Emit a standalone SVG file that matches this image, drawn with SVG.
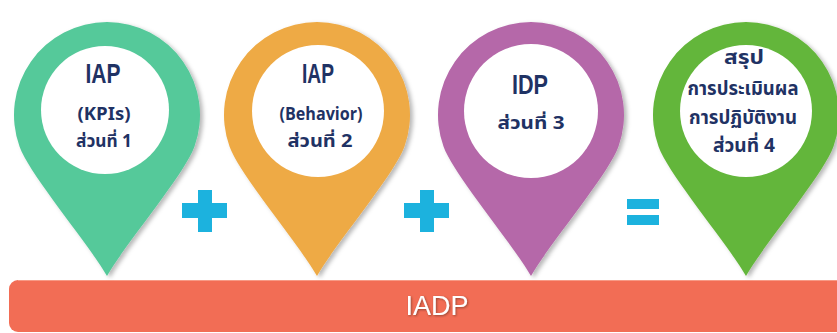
<svg xmlns="http://www.w3.org/2000/svg" width="837" height="333" viewBox="0 0 837 333">
  <defs>
    <!-- map-pin outline, bulb centred on the origin, tip at (0,161) -->
    <path id="pin" d="M0,161 C19,128 77.1,60 87.4,31.8 A93,93 0 1 0 -87.4,31.8 C-77.1,60 -19,128 0,161 Z"/>
    <filter id="pinShadow" x="-20%" y="-20%" width="140%" height="140%">
      <feDropShadow dx="3" dy="2" stdDeviation="2" flood-color="#000" flood-opacity="0.28"/>
    </filter>
    <filter id="textShadow" x="-10%" y="-20%" width="120%" height="140%">
      <feDropShadow dx="1" dy="1" stdDeviation="0.8" flood-color="#5a2a20" flood-opacity="0.6"/>
    </filter>
  </defs>
  <style>
    .face { fill: #ffffff; }
    .title { font-family: "Liberation Sans", Arial, sans-serif; font-weight: bold; font-size: 28px; fill: #1f3264; text-anchor: middle; }
    .sub { font-family: "Noto Sans Thai", "Noto Sans", "Liberation Sans", sans-serif; font-weight: bold; font-size: 17px; fill: #1f3264; text-anchor: middle; }
    .sum { font-family: "Noto Sans Thai", "Noto Sans", "Liberation Sans", sans-serif; font-weight: bold; font-size: 19px; fill: #1f3264; text-anchor: middle; }
    .op { fill: #1cb2de; }
    .bar { fill: #f26d55; }
    .barText { font-family: "Liberation Sans", Arial, sans-serif; font-size: 27px; fill: #ffffff; text-anchor: middle; }
  </style>

  <rect width="837" height="333" fill="#ffffff"/>

  <!-- base bar -->
  <g id="iadp">
    <rect class="bar" x="9" y="280" width="850" height="52" rx="9"/>
    <line x1="18" y1="280.5" x2="837" y2="280.5" stroke="#f79a86" stroke-width="1"/>
    <text class="barText" x="437" y="315" filter="url(#textShadow)">IADP</text>
  </g>

  <!-- part 1 -->
  <g id="pin-kpi">
    <use href="#pin" x="107" y="115" fill="#55c99a" filter="url(#pinShadow)"/>
    <circle class="face" cx="105" cy="110" r="64"/>
    <text class="title" x="103" y="83" textLength="35" lengthAdjust="spacingAndGlyphs">IAP</text>
    <text class="sub" x="104" y="120" textLength="53" lengthAdjust="spacingAndGlyphs">(KPIs)</text>
    <text class="sub" x="104" y="147" textLength="56" lengthAdjust="spacingAndGlyphs">ส่วนที่ 1</text>
  </g>

  <!-- part 2 -->
  <g id="pin-behavior">
    <use href="#pin" x="317" y="115" fill="#eeaa45" filter="url(#pinShadow)"/>
    <circle class="face" cx="318" cy="111" r="66"/>
    <text class="title" x="318" y="83" textLength="32" lengthAdjust="spacingAndGlyphs">IAP</text>
    <text class="sub" x="321" y="120" textLength="83" lengthAdjust="spacingAndGlyphs">(Behavior)</text>
    <text class="sub" x="320" y="147" textLength="65" lengthAdjust="spacingAndGlyphs">ส่วนที่ 2</text>
  </g>

  <!-- part 3 -->
  <g id="pin-idp">
    <use href="#pin" x="531" y="115" fill="#b568a9" filter="url(#pinShadow)"/>
    <circle class="face" cx="531" cy="111" r="67"/>
    <text class="title" x="530" y="94" textLength="36" lengthAdjust="spacingAndGlyphs">IDP</text>
    <text class="sub" x="531" y="129" textLength="67" lengthAdjust="spacingAndGlyphs">ส่วนที่ 3</text>
  </g>

  <!-- part 4: summary -->
  <g id="pin-summary">
    <use href="#pin" x="746" y="115" fill="#64b63a" filter="url(#pinShadow)"/>
    <circle class="face" cx="746" cy="111" r="66"/>
    <text class="sum" x="744" y="64" textLength="40" lengthAdjust="spacingAndGlyphs">สรุป</text>
    <text class="sum" x="743" y="95" textLength="111" lengthAdjust="spacingAndGlyphs">การประเมินผล</text>
    <text class="sum" x="743" y="124" textLength="108" lengthAdjust="spacingAndGlyphs">การปฏิบัติงาน</text>
    <text class="sum" x="744" y="152" textLength="62" lengthAdjust="spacingAndGlyphs">ส่วนที่ 4</text>
  </g>

  <!-- operators between the parts -->
  <g id="operators">
    <g id="plus-1" class="op">
      <rect x="182" y="203" width="45" height="15"/>
      <rect x="198" y="190" width="14" height="42"/>
    </g>
    <g id="plus-2" class="op">
      <rect x="404" y="203" width="45" height="15"/>
      <rect x="420" y="190" width="14" height="42"/>
    </g>
    <g id="equals" class="op">
      <rect x="627" y="199" width="32" height="10"/>
      <rect x="627" y="215" width="32" height="10"/>
    </g>
  </g>
</svg>
